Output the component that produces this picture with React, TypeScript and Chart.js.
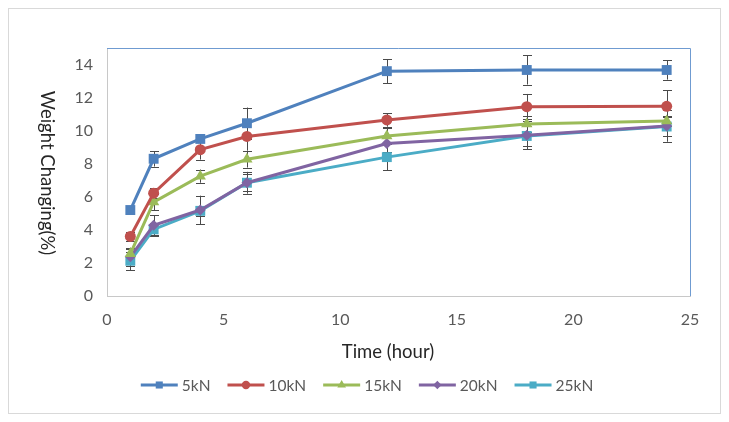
import React, { useEffect, useRef } from "react";
import { Chart, registerables } from "chart.js";

Chart.register(...registerables);

// ---- data ----
const hours = [1, 2, 4, 6, 12, 18, 24];
const seriesNames = ["5kN", "10kN", "15kN", "20kN", "25kN"];
const values5kN = [5.2, 8.3, 9.5, 10.45, 13.6, 13.67, 13.67];
const values10kN = [3.6, 6.22, 8.85, 9.65, 10.65, 11.45, 11.47];
const values15kN = [2.55, 5.68, 7.25, 8.27, 9.68, 10.4, 10.58];
const values20kN = [2.37, 4.28, 5.2, 6.85, 9.22, 9.72, 10.28];
const values25kN = [2.13, 4.03, 5.15, 6.85, 8.4, 9.68, 10.25];
const err5kN = [0.15, 0.47, 0.2, 0.95, 0.73, 0.88, 0.58];
const err10kN = [0.3, 0.3, 0.6, 0.86, 0.41, 0.77, 0.98];
const err15kN = [0.3, 0.5, 0.4, 0.5, 0.5, 0.5, 0.3];
const err20kN = [0.55, 0.6, 0.87, 0.5, 0.5, 0.85, 0.95];
const err25kN = [0.56, 0.4, 0.3, 0.66, 0.78, 0.6, 0.6];
const xTickMax = 25;
const xTickStep = 5;
const yTickMax = 15;
const yTickStep = 2;
const xTitle = "Time (hour)";
const yTitle = "Weight Changing(%)";

const allValues = [values5kN, values10kN, values15kN, values20kN, values25kN];
const allErrors = [err5kN, err10kN, err15kN, err20kN, err25kN];
const colors = ["#4F81BD", "#C0504D", "#9BBB59", "#8064A2", "#4BACC6"];
const pointStyles = ["rect", "circle", "triangle", "rectRot", "rect"];
const pointRadii = [7, 5.5, 6.5, 5.5, 7];
const legendRadii = [5, 4.2, 5, 4.2, 5];

const FONT = "Lato, 'Open Sans', sans-serif";

function drawMarker(ctx: CanvasRenderingContext2D, style: string, r: number, x: number, y: number) {
  ctx.beginPath();
  if (style === "rect") {
    const s = Math.SQRT1_2 * r;
    ctx.rect(x - s, y - s, 2 * s, 2 * s);
  } else if (style === "circle") {
    ctx.arc(x, y, r, 0, Math.PI * 2);
  } else if (style === "triangle") {
    ctx.moveTo(x, y - r);
    ctx.lineTo(x + r * 0.866, y + r * 0.5);
    ctx.lineTo(x - r * 0.866, y + r * 0.5);
    ctx.closePath();
  } else {
    ctx.moveTo(x, y - r);
    ctx.lineTo(x + r, y);
    ctx.lineTo(x, y + r);
    ctx.lineTo(x - r, y);
    ctx.closePath();
  }
  ctx.fill();
}

const errorBarPlugin = {
  id: "errorBars",
  beforeDatasetsDraw(chart: any) {
    const ctx = chart.ctx;
    const yScale = chart.scales.y;
    ctx.save();
    ctx.strokeStyle = "#4a4a4a";
    ctx.lineWidth = 1;
    allErrors.forEach((errs, i) => {
      const meta = chart.getDatasetMeta(i);
      meta.data.forEach((pt: any, j: number) => {
        const v = allValues[i][j];
        const e = errs[j];
        const x = Math.round(pt.x) + 0.5;
        const y1 = yScale.getPixelForValue(v + e);
        const y2 = yScale.getPixelForValue(v - e);
        ctx.beginPath();
        ctx.moveTo(x, y1);
        ctx.lineTo(x, y2);
        ctx.moveTo(x - 4.5, Math.round(y1) + 0.5);
        ctx.lineTo(x + 4.5, Math.round(y1) + 0.5);
        ctx.moveTo(x - 4.5, Math.round(y2) + 0.5);
        ctx.lineTo(x + 4.5, Math.round(y2) + 0.5);
        ctx.stroke();
      });
    });
    ctx.restore();
  },
};

const frameAndTextPlugin = {
  id: "frameAndText",
  beforeDatasetsDraw(chart: any) {
    const { ctx, chartArea } = chart;
    ctx.save();
    ctx.strokeStyle = "#6f9bd1";
    ctx.lineWidth = 1;
    ctx.beginPath();
    ctx.moveTo(chartArea.left, Math.round(chartArea.top) + 0.5);
    ctx.lineTo(Math.round(chartArea.right) + 0.5, Math.round(chartArea.top) + 0.5);
    ctx.lineTo(Math.round(chartArea.right) + 0.5, chartArea.bottom);
    ctx.stroke();
    ctx.restore();
  },
  afterDraw(chart: any) {
    const { ctx } = chart;
    ctx.save();
    ctx.fillStyle = "#262626";
    ctx.font = `18.5px ${FONT}`;
    ctx.textAlign = "center";
    ctx.textBaseline = "middle";
    ctx.translate(38, 164);
    ctx.rotate(Math.PI / 2);
    ctx.fillText(yTitle, 0, 0);
    ctx.restore();

    ctx.save();
    ctx.fillStyle = "#262626";
    ctx.font = `18.5px ${FONT}`;
    ctx.textAlign = "center";
    ctx.textBaseline = "middle";
    ctx.fillText(xTitle, 379, 343);
    ctx.restore();

    ctx.save();
    ctx.font = `15.5px ${FONT}`;
    const lineLen = 37;
    const gapText = 4;
    const gapItem = 17;
    const widths = seriesNames.map((n) => ctx.measureText(n).width);
    const total =
      widths.reduce((a, w) => a + lineLen + gapText + w, 0) + gapItem * (seriesNames.length - 1);
    let x = 358 - total / 2;
    const y = 376;
    seriesNames.forEach((name, i) => {
      ctx.strokeStyle = colors[i];
      ctx.lineWidth = 3;
      ctx.beginPath();
      ctx.moveTo(x, y);
      ctx.lineTo(x + lineLen, y);
      ctx.stroke();
      ctx.fillStyle = colors[i];
      drawMarker(ctx, pointStyles[i], legendRadii[i], x + lineLen / 2, y);
      ctx.fillStyle = "#595959";
      ctx.textAlign = "left";
      ctx.textBaseline = "middle";
      ctx.fillText(name, x + lineLen + gapText, y + 1);
      x += lineLen + gapText + widths[i] + gapItem;
    });
    ctx.restore();
  },
};

export default function App() {
  const canvasRef = useRef<HTMLCanvasElement | null>(null);

  useEffect(() => {
    if (!canvasRef.current) return;
    const chart = new Chart(canvasRef.current, {
      type: "line",
      data: {
        datasets: seriesNames.map((name, i) => ({
          label: name,
          data: hours.map((h, j) => ({ x: h, y: allValues[i][j] })),
          borderColor: colors[i],
          backgroundColor: colors[i],
          borderWidth: 3,
          pointStyle: pointStyles[i] as any,
          pointRadius: pointRadii[i],
          pointBorderWidth: 0,
          pointBackgroundColor: colors[i],
          tension: 0,
          fill: false,
        })),
      },
      options: {
        responsive: false,
        animation: false,
        layout: { padding: { top: 39, right: 30, left: 0, bottom: 0 } },
        plugins: {
          legend: { display: false },
          tooltip: { enabled: false },
        },
        scales: {
          x: {
            type: "linear",
            min: 0,
            max: xTickMax,
            grid: { display: false, drawTicks: false },
            border: { display: true, color: "#c8c8c8", width: 1 },
            ticks: {
              stepSize: xTickStep,
              color: "#595959",
              font: { family: FONT, size: 16 },
              padding: 14,
              maxRotation: 0,
            },
            afterFit: (scale: any) => {
              scale.height = 117;
            },
          },
          y: {
            type: "linear",
            min: 0,
            max: yTickMax,
            grid: { display: false, drawTicks: false },
            border: { display: true, color: "#c8c8c8", width: 1 },
            ticks: {
              stepSize: yTickStep,
              includeBounds: false,
              color: "#595959",
              font: { family: FONT, size: 16 },
              padding: 14,
              callback: (v: any) => (Number(v) % yTickStep === 0 ? String(v) : null),
            },
            afterFit: (scale: any) => {
              scale.width = 98;
            },
          },
        },
      } as any,
      plugins: [errorBarPlugin, frameAndTextPlugin],
    });
    return () => chart.destroy();
  }, []);

  return (
    <div
      style={{
        width: 711,
        height: 404,
        border: "1px solid #d9d9d9",
        background: "#fff",
      }}
    >
      <canvas ref={canvasRef} width={711} height={404} style={{ display: "block" }} />
    </div>
  );
}
